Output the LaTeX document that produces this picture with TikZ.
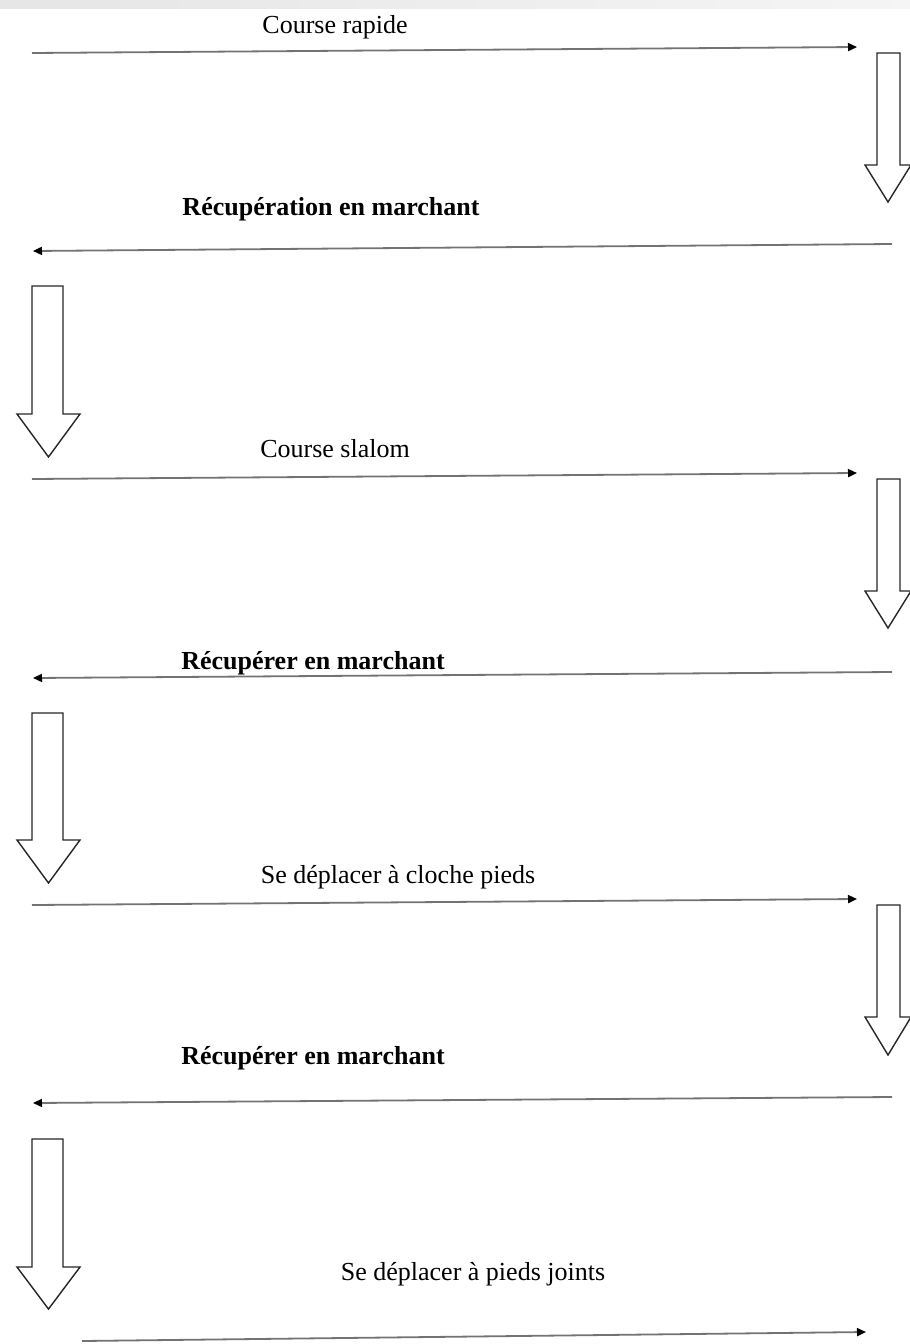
\documentclass[tikz,border=0pt]{standalone}
\usepackage{fontspec}
\setmainfont{Liberation Serif}
\usetikzlibrary{arrows.meta}
\newcommand{\blkarrow}[7]{% shaft left, shaft right, head left, head right, top, head base, tip
  \pgfmathsetmacro{\tipx}{(#3+#4)/2}
  \draw[blockarrow] (#1,#5) -- (#2,#5) -- (#2,#6) -- (#4,#6) -- (\tipx,#7) -- (#3,#6) -- (#1,#6) -- cycle;}
\begin{document}
\begin{tikzpicture}[x=1pt,y=-1pt,
  lbl/.style={font=\fontsize{26}{30}\selectfont, inner sep=0pt, text=black},
  blbl/.style={lbl, font=\fontsize{26}{30}\selectfont\bfseries},
  flow/.style={draw=black!55, line width=1.8pt, -{Triangle[length=9pt,width=8pt,color=black]}},
  blockarrow/.style={draw=black!85, line width=1.4pt, fill=white, line join=miter}]
\useasboundingbox (0,0) rectangle (910,1344);
\shade[left color=black!10, right color=black!4] (0,0) rectangle (910,8);

% row 1
\node[lbl] (t1) at (335,27) {Course rapide};
\coordinate (a1s) at (32,53); \coordinate (a1e) at (857,47);
\draw[flow] (a1s) -- (a1e);
\blkarrow{877}{900}{865}{911}{53}{165}{202}

% row 2
\node[blbl] (t2) at (331,209) {Récupération en marchant};
\coordinate (a2s) at (892,244); \coordinate (a2e) at (33,251);
\draw[flow] (a2s) -- (a2e);
\blkarrow{32}{63}{17}{80}{286}{414}{457}

% row 3
\node[lbl] (t3) at (335,449) {Course slalom};
\coordinate (a3s) at (32,479); \coordinate (a3e) at (857,473);
\draw[flow] (a3s) -- (a3e);
\blkarrow{877}{900}{865}{911}{479}{591}{628}

% row 4
\node[blbl] (t4) at (313,663) {Récupérer en marchant};
\coordinate (a4s) at (892,672); \coordinate (a4e) at (33,678);
\draw[flow] (a4s) -- (a4e);
\blkarrow{32}{63}{17}{80}{713}{840}{883}

% row 5
\node[lbl] (t5) at (398,877) {Se déplacer à cloche pieds};
\coordinate (a5s) at (32,905); \coordinate (a5e) at (857,899);
\draw[flow] (a5s) -- (a5e);
\blkarrow{877}{900}{865}{911}{905}{1017}{1055}

% row 6
\node[blbl] (t6) at (313,1058) {Récupérer en marchant};
\coordinate (a6s) at (892,1097); \coordinate (a6e) at (33,1103);
\draw[flow] (a6s) -- (a6e);
\blkarrow{32}{63}{17}{80}{1139}{1267}{1309}

% row 7
\node[lbl] (t7) at (473,1274) {Se déplacer à pieds joints};
\coordinate (a7s) at (82,1341); \coordinate (a7e) at (866,1332);
\draw[flow] (a7s) -- (a7e);
\end{tikzpicture}
\end{document}
